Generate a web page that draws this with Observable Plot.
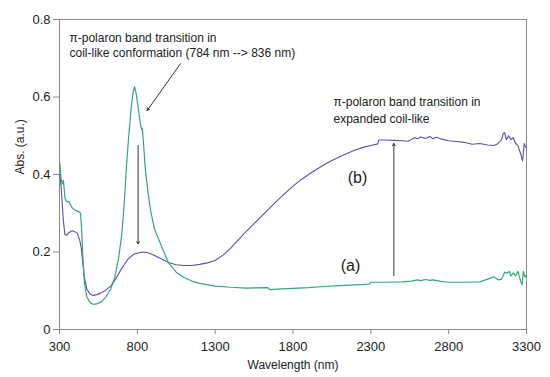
<!DOCTYPE html>
<html>
<head>
<meta charset="utf-8">
<script src="https://cdn.jsdelivr.net/npm/d3@7"></script>
<script src="https://cdn.jsdelivr.net/npm/@observablehq/plot@0.6"></script>
<style>
  html, body { margin: 0; padding: 0; background: #fff; }
  #chart { width: 550px; height: 377px; }
</style>
</head>
<body>
<div id="chart"></div>
<script>
// Series (a): green
const waveA = [302,310,318,325,335,345,360,380,400,420,435,442,450,460,475,495,515,540,570,600,630,655,680,700,715,730,745,760,772,782,792,805,818,828,832,838,852,870,885,910,950,1000,1050,1100,1150,1200,1300,1400,1500,1640,1650,1700,1800,1900,2000,2100,2200,2290,2300,2400,2500,2560,2600,2620,2650,2680,2700,2750,2800,2900,3000,3050,3090,3120,3140,3160,3175,3190,3200,3215,3230,3245,3255,3265,3272,3280,3290,3300];
const absA = [0.43,0.39,0.375,0.385,0.34,0.33,0.33,0.315,0.308,0.305,0.30,0.26,0.19,0.12,0.085,0.07,0.065,0.066,0.072,0.085,0.105,0.135,0.185,0.245,0.32,0.42,0.50,0.57,0.61,0.627,0.61,0.575,0.535,0.515,0.52,0.49,0.41,0.35,0.307,0.26,0.22,0.172,0.148,0.134,0.125,0.119,0.112,0.109,0.107,0.108,0.103,0.104,0.106,0.108,0.111,0.113,0.115,0.117,0.122,0.122,0.123,0.125,0.128,0.126,0.129,0.127,0.128,0.124,0.122,0.122,0.123,0.13,0.136,0.128,0.13,0.148,0.145,0.15,0.138,0.146,0.138,0.15,0.135,0.122,0.115,0.15,0.135,0.14];

// Series (b): blue
const waveB = [302,310,315,320,325,335,345,360,380,400,415,430,440,450,460,475,495,515,540,570,600,630,660,700,740,780,810,840,870,900,950,1000,1050,1100,1150,1200,1250,1300,1350,1400,1450,1500,1550,1600,1650,1700,1750,1800,1850,1900,1950,2000,2050,2100,2150,2200,2250,2300,2345,2350,2400,2450,2500,2540,2560,2580,2600,2620,2650,2680,2700,2720,2750,2800,2850,2900,2950,3000,3050,3090,3110,3140,3150,3160,3170,3185,3200,3215,3230,3245,3255,3265,3275,3285,3295,3300];
const absB = [0.40,0.37,0.34,0.31,0.28,0.245,0.243,0.25,0.255,0.252,0.248,0.23,0.21,0.17,0.135,0.105,0.092,0.088,0.09,0.095,0.103,0.112,0.13,0.158,0.182,0.195,0.198,0.2,0.198,0.193,0.183,0.173,0.167,0.165,0.165,0.168,0.172,0.178,0.192,0.21,0.232,0.253,0.273,0.293,0.313,0.333,0.352,0.37,0.386,0.40,0.413,0.425,0.436,0.446,0.455,0.463,0.47,0.475,0.479,0.489,0.489,0.488,0.487,0.486,0.49,0.495,0.492,0.497,0.493,0.498,0.492,0.496,0.492,0.487,0.485,0.483,0.478,0.48,0.476,0.475,0.478,0.49,0.505,0.508,0.49,0.5,0.49,0.495,0.48,0.475,0.462,0.45,0.435,0.48,0.47,0.47];

// Axis ticks
const xTicks = [300, 800, 1300, 1800, 2300, 2800, 3300];
const yTicks = [0, 0.2, 0.4, 0.6, 0.8];
const xTitle = "Wavelength (nm)";
const yTitle = "Abs. (a.u.)";

// Annotations (data units)
const noteText = ["π-polaron band transition in", "coil-like conformation (784 nm --> 836 nm)", "π-polaron band transition in", "expanded coil-like"];
const noteX = [364, 364, 2060, 2060];
const noteY = [0.753, 0.712, 0.586, 0.542];
const seriesLabels = ["(b)", "(a)"];
const seriesLabelX = [2214, 2169];
const seriesLabelY = [0.392, 0.165];
const arrowX1 = [1077, 805, 2448];
const arrowY1 = [0.686, 0.475, 0.139];
const arrowX2 = [863, 805, 2448];
const arrowY2 = [0.565, 0.221, 0.48];

const serA = waveA.map((w, i) => ({w, v: absA[i]}));
const serB = waveB.map((w, i) => ({w, v: absB[i]}));
const notes = noteText.map((t, i) => ({t, x: noteX[i], y: noteY[i]}));
const labs = seriesLabels.map((t, i) => ({t, x: seriesLabelX[i], y: seriesLabelY[i]}));
const arrows = arrowX1.map((x1, i) => ({x1, y1: arrowY1[i], x2: arrowX2[i], y2: arrowY2[i]}));

const chart = Plot.plot({
  width: 550,
  height: 377,
  marginLeft: 59,
  marginRight: 24,
  marginTop: 19,
  marginBottom: 48,
  style: {fontFamily: "'Liberation Sans', Arial, sans-serif", background: "#fff"},
  x: {domain: [300, 3300]},
  y: {domain: [0, 0.8]},
  marks: [
    Plot.frame({stroke: "#8a8a8a"}),
    Plot.axisX({ticks: xTicks, tickSize: 5, tickPadding: 7, stroke: "#8a8a8a", fill: "#222", fontSize: 13, label: null, tickFormat: d3.format("d")}),
    Plot.axisY({ticks: yTicks, tickSize: 6, tickPadding: 3, stroke: "#8a8a8a", fill: "#222", fontSize: 13, label: null, tickFormat: d3.format("~g")}),
    Plot.text([xTitle], {frameAnchor: "bottom", dy: 39, fontSize: 12, fill: "#222"}),
    Plot.text([yTitle], {frameAnchor: "left", dx: -39, rotate: -90, fontSize: 12, fill: "#222"}),
    Plot.line(serB, {x: "w", y: "v", stroke: "#5552b0", strokeWidth: 1.1}),
    Plot.line(serA, {x: "w", y: "v", stroke: "#36a77a", strokeWidth: 1.2}),
    Plot.arrow(arrows, {x1: "x1", y1: "y1", x2: "x2", y2: "y2", stroke: "#333", strokeWidth: 1, headLength: 4}),
    Plot.text(notes, {x: "x", y: "y", text: "t", textAnchor: "start", fontSize: 12, fill: "#222"}),
    Plot.text(labs, {x: "x", y: "y", text: "t", fontSize: 16, fill: "#222"})
  ]
});
document.getElementById("chart").appendChild(chart);
</script>
</body>
</html>
